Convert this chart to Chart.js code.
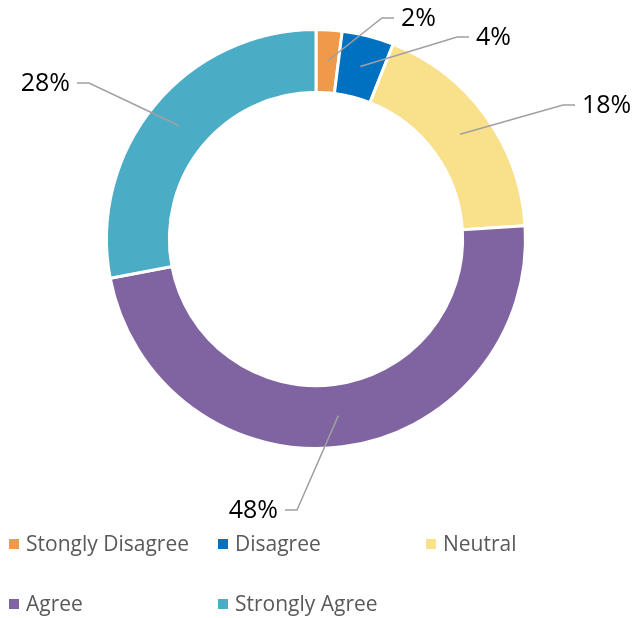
<!DOCTYPE html>
<html><head><meta charset="utf-8">
<script src="https://cdn.jsdelivr.net/npm/chart.js@4"></script>
<style>body{margin:0;background:#fff}</style>
</head><body>
<canvas id="c" width="635" height="618"></canvas>
<script>
const labels=['Stongly Disagree','Disagree','Neutral','Agree','Strongly Agree'];
const values=[2,4,18,48,28];
const pctLabels=['2%','4%','18%','48%','28%'];
const colors=['#EE9A4A','#0070C0','#F9E08B','#8064A2','#4BACC6'];

// bend point of each leader line, relative to doughnut centre, and which side the text sits on
const callouts=[[66,-221,1],[141,-202,1],[247,-134,1],[-19,271,-1],[-227,-156,-1]];
const legendCols=[9,218,426], legendRows=[544,604];

const callout={id:'callout',afterDraw(ch){
 const c=ch.ctx, meta=ch.getDatasetMeta(0);
 const cx=meta.data[0].x, cy=meta.data[0].y;
 c.save();
 c.strokeStyle='#A0A0A0'; c.lineWidth=1.5;
 c.font='25px "Open Sans"'; c.fillStyle='#000'; c.textBaseline='middle';
 meta.data.forEach((arc,i)=>{
  const p=arc.getCenterPoint();
  const [dx,dy,side]=callouts[i];
  const ex=cx+dx, ey=cy+dy, tx=ex+side*12;
  c.beginPath(); c.moveTo(p.x,p.y); c.lineTo(ex,ey); c.lineTo(tx,ey); c.stroke();
  c.textAlign=side>0?'left':'right';
  c.fillText(pctLabels[i],tx+side*7,ey+1);
 });
 // legend, 3 columns
 c.font='21px "Open Sans"'; c.textAlign='left';
 labels.forEach((l,i)=>{
  const x=legendCols[i%3], y=legendRows[Math.floor(i/3)];
  c.fillStyle=colors[i]; c.fillRect(x,y-5,10,10);
  c.fillStyle='#595959'; c.fillText(l,x+17,y+1);
 });
 c.restore();
}};

new Chart(document.getElementById('c'),{
 type:'doughnut',
 data:{labels:labels,datasets:[{data:values,backgroundColor:colors,borderColor:'#fff',borderWidth:3}]},
 options:{responsive:false,animation:false,cutout:'70%',
  layout:{padding:{left:105,right:108,top:28,bottom:168}},
  plugins:{legend:{display:false},tooltip:{enabled:false}}},
 plugins:[callout]
});
</script>
</body></html>
